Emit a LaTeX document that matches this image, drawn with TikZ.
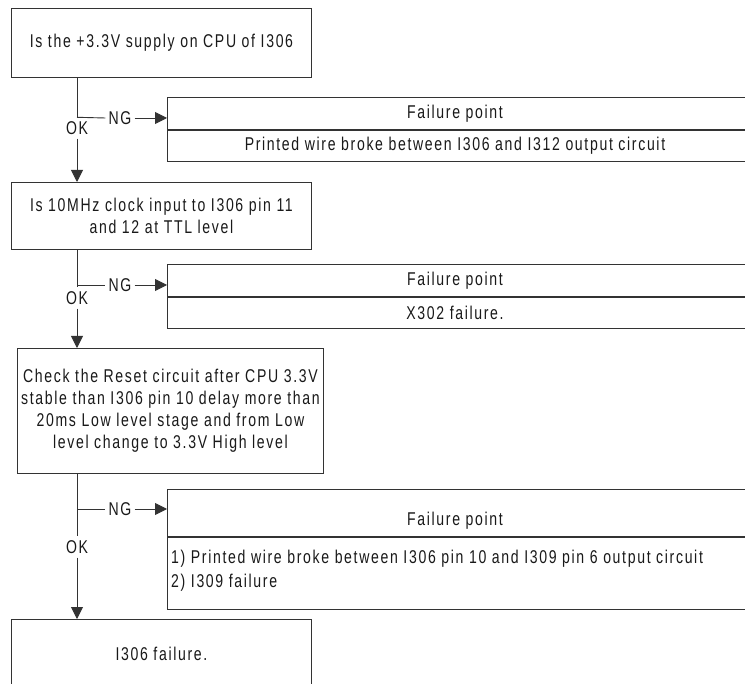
\documentclass[tikz,border=0pt]{standalone}
\usepackage{fontspec}
\setmainfont{Liberation Sans}[FakeStretch=0.76,LetterSpace=9]
\usetikzlibrary{arrows.meta}
\begin{document}
\begin{tikzpicture}[x=1pt,y=-1pt,
  txt/.style={font=\fontsize{18.5}{22}\selectfont, text=black!90},
  edge/.style={draw=black!80, line width=0.9pt},
  flow/.style={edge, -{Triangle[length=12pt,width=12pt]}},
  stepbox/.style={edge, rectangle, anchor=north west, inner sep=0pt,
    minimum width=300pt, txt, align=center},
  failbox/.style={edge, rectangle, anchor=north west, inner sep=0pt,
    minimum width=640pt},
  tag/.style={txt, inner sep=3pt},
  oktag/.style={txt, inner sep=4pt, text height=13pt, text depth=0pt},
]
\useasboundingbox (0,0) rectangle (745,684);
\fill[white] (0,0) rectangle (745,684);
\clip (0,0) rectangle (745,684);

% question boxes
\node[stepbox, minimum height=69pt] (q1) at (11,8)
  {Is the +3.3V supply on CPU of I306};
\node[stepbox, minimum height=67pt] (q2) at (11,182)
  {Is 10MHz clock input to I306 pin 11\\and 12 at TTL level};
\node[stepbox, minimum width=306pt, minimum height=125pt] (q3) at (17,348)
  {Check the Reset circuit after CPU 3.3V\\stable than I306 pin 10 delay more than\\20ms Low level stage and from Low\\level change to 3.3V High level};
\node[stepbox, minimum height=68pt] (q4) at (11,619) {I306 failure.};

% failure tables (open to the right)
\node[failbox, minimum height=32pt] (f1h) at (167,97) {};
\node[failbox, minimum height=31pt] (f1b) at (f1h.south west) {};
\node[txt] (f1ht) at ([xshift=288pt]f1h.west) {Failure point};
\node[txt] (f1bt) at ([xshift=288pt]f1b.west) {Printed wire broke between I306 and I312 output circuit};

\node[failbox, minimum height=32pt] (f2h) at (167,264) {};
\node[failbox, minimum height=31pt] (f2b) at (f2h.south west) {};
\node[txt] (f2ht) at ([xshift=288pt]f2h.west) {Failure point};
\node[txt] (f2bt) at ([xshift=288pt]f2b.west) {X302 failure.};

\node[failbox, minimum height=47pt] (f3h) at (167,489) {};
\node[failbox, minimum height=72pt] (f3b) at (f3h.south west) {};
\node[txt] (f3ht) at ([xshift=288pt,yshift=-8pt]f3h.west) {Failure point};
\node[txt, anchor=west, align=left, inner sep=0pt, font=\fontsize{18.5}{24}\selectfont]
  (f3bt) at ([xshift=4pt,yshift=3pt]f3b.west)
  {1) Printed wire broke between I306 pin 10 and I309 pin 6 output circuit\\2) I309 failure};

% decision labels
\node[oktag] (ok1) at (77,128) {OK};
\node[oktag] (ok2) at (77,298) {OK};
\node[oktag] (ok3) at (77,547) {OK};
\coordinate (j1) at (ok1.north);
\coordinate (j2) at (77,285);
\coordinate (j3) at (77,509);
\node[tag] (ng1) at (120,118) {NG};
\node[tag] (ng2) at (120,285) {NG};
\node[tag] (ng3) at (120,509) {NG};

% connectors
\draw[edge] (q1.south -| ok1) -- (ok1.north);
\draw[edge] (j1) -- (ng1.west);
\draw[flow] (ng1.east) -- (ng1.east -| f1h.west);
\draw[flow] (ok1.south) -- (q2.north -| ok1);

\draw[edge] (q2.south -| ok2) -- (ok2.north);
\draw[edge] (j2) -- (ng2.west);
\draw[flow] (ng2.east) -- (ng2.east -| f2h.west);
\draw[flow] (ok2.south) -- (q3.north -| ok2);

\draw[edge] (q3.south -| ok3) -- (ok3.north);
\draw[edge] (j3) -- (ng3.west);
\draw[flow] (ng3.east) -- (ng3.east -| f3h.west);
\draw[flow] (ok3.south) -- (q4.north -| ok3);
\end{tikzpicture}
\end{document}
